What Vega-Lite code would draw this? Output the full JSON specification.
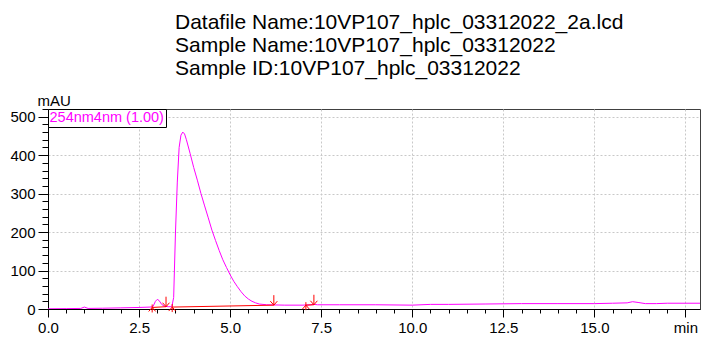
{
  "$schema": "https://vega.github.io/schema/vega-lite/v6.json",
  "width": 652,
  "height": 200,
  "autosize": {"type": "none"},
  "padding": {"left": 48, "top": 109, "right": 2, "bottom": 30},
  "background": "white",
  "title": {
    "text": ["Datafile Name:10VP107_hplc_03312022_2a.lcd", "Sample Name:10VP107_hplc_03312022", "Sample ID:10VP107_hplc_03312022"],
    "anchor": "start",
    "frame": "group",
    "dx": 127,
    "offset": 14,
    "font": "Liberation Sans",
    "fontSize": 21,
    "fontWeight": "normal",
    "lineHeight": 23,
    "color": "black"
  },
  "config": {
    "view": {"stroke": "#404040", "strokeWidth": 1},
    "axis": {
      "labelFont": "Liberation Sans",
      "labelFontSize": 15,
      "labelColor": "black",
      "domainColor": "black",
      "tickColor": "black",
      "gridColor": "#c8c8c8",
      "gridDash": [2, 2],
      "labelOverlap": false,
      "labelFlush": false,
      "labelBound": false
    },
    "legend": {
      "orient": "top-left",
      "offset": 0,
      "padding": 2,
      "strokeColor": "black",
      "fillColor": "white",
      "cornerRadius": 0,
      "labelFont": "Liberation Sans",
      "labelFontSize": 14.5,
      "labelColor": "#ff00ff",
      "symbolOpacity": 0,
      "title": null
    }
  },
  "datasets": {
    "signal": [
      {"t": 0, "v": 0.5, "ch": "254nm4nm (1.00)"},
      {"t": 0.5, "v": 1, "ch": "254nm4nm (1.00)"},
      {"t": 0.9, "v": 1.5, "ch": "254nm4nm (1.00)"},
      {"t": 1.0, "v": 5, "ch": "254nm4nm (1.00)"},
      {"t": 1.1, "v": 1.5, "ch": "254nm4nm (1.00)"},
      {"t": 1.5, "v": 2, "ch": "254nm4nm (1.00)"},
      {"t": 2.0, "v": 3, "ch": "254nm4nm (1.00)"},
      {"t": 2.5, "v": 4, "ch": "254nm4nm (1.00)"},
      {"t": 2.8, "v": 5, "ch": "254nm4nm (1.00)"},
      {"t": 2.88, "v": 6, "ch": "254nm4nm (1.00)"},
      {"t": 2.95, "v": 20, "ch": "254nm4nm (1.00)"},
      {"t": 3.0, "v": 25, "ch": "254nm4nm (1.00)"},
      {"t": 3.05, "v": 22, "ch": "254nm4nm (1.00)"},
      {"t": 3.12, "v": 12, "ch": "254nm4nm (1.00)"},
      {"t": 3.2, "v": 7, "ch": "254nm4nm (1.00)"},
      {"t": 3.3, "v": 6, "ch": "254nm4nm (1.00)"},
      {"t": 3.4, "v": 6, "ch": "254nm4nm (1.00)"},
      {"t": 3.45, "v": 30, "ch": "254nm4nm (1.00)"},
      {"t": 3.5, "v": 200, "ch": "254nm4nm (1.00)"},
      {"t": 3.55, "v": 330, "ch": "254nm4nm (1.00)"},
      {"t": 3.6, "v": 420, "ch": "254nm4nm (1.00)"},
      {"t": 3.65, "v": 452, "ch": "254nm4nm (1.00)"},
      {"t": 3.7, "v": 460, "ch": "254nm4nm (1.00)"},
      {"t": 3.75, "v": 455, "ch": "254nm4nm (1.00)"},
      {"t": 3.8, "v": 440, "ch": "254nm4nm (1.00)"},
      {"t": 3.9, "v": 405, "ch": "254nm4nm (1.00)"},
      {"t": 4.0, "v": 368, "ch": "254nm4nm (1.00)"},
      {"t": 4.1, "v": 335, "ch": "254nm4nm (1.00)"},
      {"t": 4.2, "v": 300, "ch": "254nm4nm (1.00)"},
      {"t": 4.3, "v": 268, "ch": "254nm4nm (1.00)"},
      {"t": 4.4, "v": 237, "ch": "254nm4nm (1.00)"},
      {"t": 4.5, "v": 205, "ch": "254nm4nm (1.00)"},
      {"t": 4.6, "v": 178, "ch": "254nm4nm (1.00)"},
      {"t": 4.7, "v": 152, "ch": "254nm4nm (1.00)"},
      {"t": 4.8, "v": 128, "ch": "254nm4nm (1.00)"},
      {"t": 4.9, "v": 108, "ch": "254nm4nm (1.00)"},
      {"t": 5.0, "v": 89, "ch": "254nm4nm (1.00)"},
      {"t": 5.1, "v": 72, "ch": "254nm4nm (1.00)"},
      {"t": 5.2, "v": 58, "ch": "254nm4nm (1.00)"},
      {"t": 5.3, "v": 45, "ch": "254nm4nm (1.00)"},
      {"t": 5.4, "v": 34, "ch": "254nm4nm (1.00)"},
      {"t": 5.5, "v": 26, "ch": "254nm4nm (1.00)"},
      {"t": 5.6, "v": 20, "ch": "254nm4nm (1.00)"},
      {"t": 5.7, "v": 16, "ch": "254nm4nm (1.00)"},
      {"t": 5.8, "v": 13, "ch": "254nm4nm (1.00)"},
      {"t": 6.0, "v": 11, "ch": "254nm4nm (1.00)"},
      {"t": 6.5, "v": 10, "ch": "254nm4nm (1.00)"},
      {"t": 7.0, "v": 10, "ch": "254nm4nm (1.00)"},
      {"t": 7.2, "v": 11, "ch": "254nm4nm (1.00)"},
      {"t": 7.3, "v": 12, "ch": "254nm4nm (1.00)"},
      {"t": 7.4, "v": 11, "ch": "254nm4nm (1.00)"},
      {"t": 8.0, "v": 11, "ch": "254nm4nm (1.00)"},
      {"t": 9.0, "v": 11, "ch": "254nm4nm (1.00)"},
      {"t": 10.0, "v": 10, "ch": "254nm4nm (1.00)"},
      {"t": 10.5, "v": 12, "ch": "254nm4nm (1.00)"},
      {"t": 11.0, "v": 12, "ch": "254nm4nm (1.00)"},
      {"t": 12.0, "v": 13, "ch": "254nm4nm (1.00)"},
      {"t": 13.0, "v": 14, "ch": "254nm4nm (1.00)"},
      {"t": 14.0, "v": 14, "ch": "254nm4nm (1.00)"},
      {"t": 15.0, "v": 14, "ch": "254nm4nm (1.00)"},
      {"t": 15.5, "v": 15, "ch": "254nm4nm (1.00)"},
      {"t": 15.9, "v": 16, "ch": "254nm4nm (1.00)"},
      {"t": 16.05, "v": 19, "ch": "254nm4nm (1.00)"},
      {"t": 16.2, "v": 17, "ch": "254nm4nm (1.00)"},
      {"t": 16.4, "v": 14, "ch": "254nm4nm (1.00)"},
      {"t": 16.7, "v": 14, "ch": "254nm4nm (1.00)"},
      {"t": 17.0, "v": 15, "ch": "254nm4nm (1.00)"},
      {"t": 17.9, "v": 15, "ch": "254nm4nm (1.00)"}
    ],
    "baselines": [
      {"seg": 1, "t": 2.86, "v": 4},
      {"seg": 1, "t": 3.24, "v": 6},
      {"seg": 2, "t": 3.41, "v": 5},
      {"seg": 2, "t": 6.2, "v": 10},
      {"seg": 3, "t": 7.08, "v": 10},
      {"seg": 3, "t": 7.3, "v": 11}
    ],
    "marks": [
      {"kind": "start", "t": 2.86, "v": 4},
      {"kind": "end", "t": 3.24, "v": 6},
      {"kind": "start", "t": 3.41, "v": 5},
      {"kind": "end", "t": 6.2, "v": 10},
      {"kind": "start", "t": 7.08, "v": 10},
      {"kind": "end", "t": 7.3, "v": 11}
    ]
  },
  "layer": [
    {
      "data": {"name": "signal"},
      "mark": {"type": "line", "strokeWidth": 1, "clip": true},
      "encoding": {
        "x": {
          "field": "t", "type": "quantitative",
          "scale": {"domain": [0, 17.9], "nice": false, "zero": false},
          "axis": {
            "title": null,
            "values": [0,0.5,1,1.5,2,2.5,3,3.5,4,4.5,5,5.5,6,6.5,7,7.5,8,8.5,9,9.5,10,10.5,11,11.5,12,12.5,13,13.5,14,14.5,15,15.5,16,16.5,17,17.5],
            "tickCount": 1000,
            "labelOverlap": false,
            "labelExpr": "datum.value == 17.5 ? 'min' : (abs(datum.value / 2.5 - round(datum.value / 2.5)) < 0.001 ? format(datum.value, '.1f') : '')",
            "tickSize": {"condition": {"test": "abs(datum.value / 2.5 - round(datum.value / 2.5)) < 0.001", "value": 8}, "value": 4},
            "gridOpacity": {"condition": {"test": "abs(datum.value / 2.5 - round(datum.value / 2.5)) < 0.001", "value": 1}, "value": 0},
            "labelPadding": 3
          }
        },
        "y": {
          "field": "v", "type": "quantitative",
          "scale": {"domain": [0, 520], "nice": false},
          "axis": {
            "title": "mAU",
            "titleAngle": 0,
            "titleAlign": "left",
            "titleBaseline": "alphabetic",
            "titleX": -11,
            "titleY": -4,
            "titleFont": "Liberation Sans",
            "titleFontSize": 15,
            "titleFontWeight": "normal",
            "titleColor": "black",
            "values": [0,20,40,60,80,100,120,140,160,180,200,220,240,260,280,300,320,340,360,380,400,420,440,460,480,500,520],
            "tickCount": 1000,
            "labelOverlap": false,
            "labelExpr": "abs(datum.value / 100 - round(datum.value / 100)) < 0.001 ? format(datum.value, 'd') : ''",
            "tickSize": {"condition": {"test": "abs(datum.value / 100 - round(datum.value / 100)) < 0.001", "value": 10}, "value": 6},
            "gridOpacity": {"condition": {"test": "abs(datum.value / 100 - round(datum.value / 100)) < 0.001", "value": 1}, "value": 0},
            "labelPadding": 3
          }
        },
        "color": {
          "field": "ch", "type": "nominal",
          "scale": {"domain": ["254nm4nm (1.00)"], "range": ["#ff00ff"]},
          "legend": {"labelExpr": "datum.label + '    '", "symbolSize": 0, "symbolStrokeWidth": 0, "labelOffset": -15}
        }
      }
    },
    {
      "data": {"name": "baselines"},
      "mark": {"type": "line", "color": "#ff0000", "strokeWidth": 1},
      "encoding": {
        "x": {"field": "t", "type": "quantitative"},
        "y": {"field": "v", "type": "quantitative"},
        "detail": {"field": "seg", "type": "nominal"}
      }
    },
    {
      "data": {"name": "marks"},
      "transform": [{"filter": "datum.kind == 'end'"}],
      "mark": {"type": "point", "shape": "M0,-1L0,0M-0.35,-0.4L0,0L0.35,-0.4", "size": 400, "filled": false, "stroke": "#ff0000", "strokeWidth": 1, "opacity": 1},
      "encoding": {
        "x": {"field": "t", "type": "quantitative"},
        "y": {"field": "v", "type": "quantitative"}
      }
    },
    {
      "data": {"name": "marks"},
      "transform": [{"filter": "datum.kind == 'start'"}],
      "mark": {"type": "point", "shape": "M-0.35,0.4L0,0L0.35,0.4M0,-0.3L0,0.5", "size": 400, "filled": false, "stroke": "#ff0000", "strokeWidth": 1, "opacity": 1},
      "encoding": {
        "x": {"field": "t", "type": "quantitative"},
        "y": {"field": "v", "type": "quantitative"}
      }
    }
  ]
}
